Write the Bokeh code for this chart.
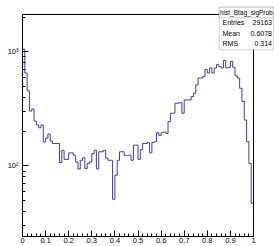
import math
from bokeh.plotting import figure
from bokeh.models import FixedTicker, BoxAnnotation, Label
from bokeh.embed import file_html
from bokeh.resources import INLINE

# ---- data ----
bin_low = 0.0
bin_high = 1.0
counts = [
    1050, 650, 454, 302, 315, 247, 228, 216, 228, 162,
    175, 190, 165, 157, 157, 157, 107, 137, 114, 114,
    130, 130, 124, 108, 94, 112, 118, 95, 105, 108,
    128, 137, 94, 133, 133, 137, 117, 112, 112, 51,
    83, 112, 133, 133, 124, 124, 124, 112, 152, 152,
    114, 139, 157, 157, 160, 130, 160, 163, 195, 185,
    195, 198, 193, 244, 289, 289, 354, 354, 358, 289,
    378, 378, 378, 405, 433, 512, 588, 588, 607, 697,
    650, 720, 650, 720, 770, 740, 720, 837, 720, 730,
    822, 730, 615, 588, 478, 366, 252, 163, 105, 47,
]
y_low = 24.1
y_high = 2115
x_ticks = [0, 0.1, 0.2, 0.3, 0.4, 0.5, 0.6, 0.7, 0.8, 0.9, 1]
x_tick_labels = ["0", "0.1", "0.2", "0.3", "0.4", "0.5", "0.6", "0.7", "0.8", "0.9", "1"]
y_ticks = [100, 1000]
y_tick_labels = ["10\u00b2", "10\u00b3"]
y_minor_ticks = [30, 40, 50, 60, 70, 80, 90, 200, 300, 400, 500, 600, 700, 800, 900, 2000]
stats_title = "hist_Btag_sigProb"
stats_names = ["Entries", "Mean", "RMS"]
stats_values = ["29163", "0.6078", "0.314"]

nb = len(counts)
edges = [bin_low + (bin_high - bin_low) * i / nb for i in range(nb + 1)]
ys = counts + [counts[-1]]

FONT = "Liberation Sans"

# ---- geometry (canvas pixels) ----
W, H = 274, 246
LEFT, BOTTOM = 22, 10            # borders holding the axes
INNER_W = 231                    # width of the drawn frame (0..1)
INNER_TOP = 14                   # drawn frame top, canvas px
frame_w = W - LEFT               # bokeh frame spans to right edge
frame_h = H - BOTTOM             # bokeh frame spans to top edge
inner_h = frame_h - INNER_TOP
x_end = bin_high + (bin_high - bin_low) * (frame_w - INNER_W) / INNER_W
ldec = (math.log10(y_high) - math.log10(y_low)) / inner_h
y_end = 10 ** (math.log10(y_high) + ldec * INNER_TOP)

p = figure(width=W, height=H, x_range=(bin_low, x_end), y_range=(y_low, y_end),
           y_axis_type="log", output_backend="svg", toolbar_location=None,
           min_border=0,
           min_border_left=LEFT, min_border_right=0, min_border_top=0,
           min_border_bottom=BOTTOM)
p.grid.visible = False
p.outline_line_color = None
p.background_fill_color = "white"
p.border_fill_color = "white"

# frame top and right edges
p.line(x=[bin_low, bin_high], y=[y_high, y_high], line_color="black", line_width=1)
p.line(x=[bin_high, bin_high], y=[y_low, y_high], line_color="black", line_width=1)

p.step(x=edges, y=ys, mode="after", line_color="#3c3cb4", line_width=1)

x_minor = [round(k * 0.02, 2) for k in range(51)]
p.xaxis.ticker = FixedTicker(ticks=x_ticks, minor_ticks=x_minor)
p.xaxis.major_label_overrides = dict(zip(x_ticks, x_tick_labels))
p.xaxis.bounds = (bin_low, bin_high)
p.yaxis.ticker = FixedTicker(ticks=y_ticks, minor_ticks=y_minor_ticks)
p.yaxis.major_label_overrides = dict(zip(y_ticks, y_tick_labels))
p.yaxis.bounds = (y_low, y_high)

for ax in (p.xaxis[0], p.yaxis[0]):
    ax.major_tick_in = 6
    ax.major_tick_out = 0
    ax.minor_tick_in = 3
    ax.minor_tick_out = 0
    ax.axis_line_color = "black"
    ax.major_tick_line_color = "black"
    ax.minor_tick_line_color = "black"
    ax.major_label_text_font = FONT
    ax.major_label_text_font_size = "7.5px"
    ax.major_label_text_color = "black"
p.xaxis.major_label_standoff = 1
p.yaxis.major_label_standoff = 4

# ---- stats box (screen units relative to frame: x from left, y from bottom) ----
def sy(canvas_y):
    return frame_h - canvas_y

def sx(canvas_x):
    return canvas_x - LEFT

bx_l, bx_r, bx_t, bx_b = sx(218.7), sx(273.0), sy(6.7), sy(49.3)
title_sep = sy(17.3)
BOXC = "#666666"
p.add_layout(BoxAnnotation(left=bx_l, right=bx_r, top=bx_t, bottom=bx_b,
                           left_units="screen", right_units="screen",
                           top_units="screen", bottom_units="screen",
                           fill_color="white", fill_alpha=1.0,
                           line_color=BOXC, line_width=1, level="overlay"))
p.add_layout(BoxAnnotation(left=bx_l, right=bx_r, top=bx_t, bottom=title_sep,
                           left_units="screen", right_units="screen",
                           top_units="screen", bottom_units="screen",
                           fill_color="white", fill_alpha=1.0,
                           line_color=BOXC, line_width=1, level="overlay"))
p.add_layout(Label(x=(bx_l + bx_r) / 2, y=(bx_t + title_sep) / 2,
                   x_units="screen", y_units="screen", text=stats_title,
                   text_font=FONT, text_font_size="6.5px", text_align="center",
                   text_baseline="middle", text_color="black", level="overlay"))
row_y = [sy(22.0), sy(32.8), sy(43.0)]
for name, val, yy in zip(stats_names, stats_values, row_y):
    p.add_layout(Label(x=sx(222.0), y=yy, x_units="screen", y_units="screen",
                       text=name, text_font=FONT, text_font_size="7px",
                       text_align="left", text_baseline="middle",
                       text_color="black", level="overlay"))
    p.add_layout(Label(x=sx(271.5), y=yy, x_units="screen", y_units="screen",
                       text=val, text_font=FONT, text_font_size="7px",
                       text_align="right", text_baseline="middle",
                       text_color="black", level="overlay"))

open("out.html", "w").write(file_html(p, INLINE))
